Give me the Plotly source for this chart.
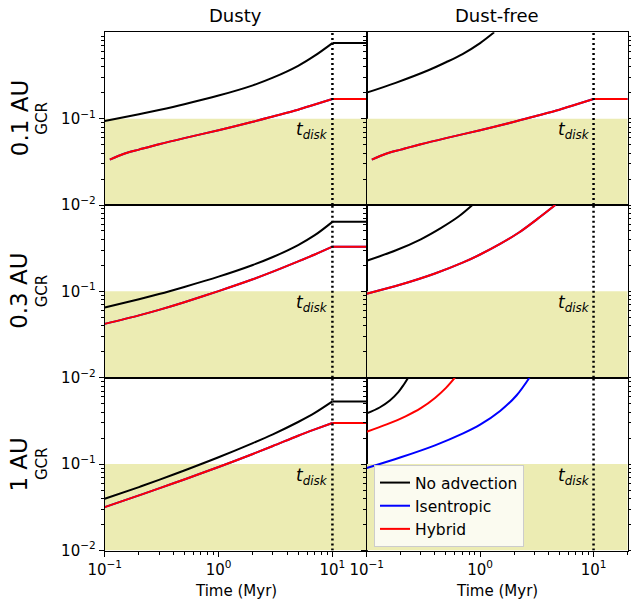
import math
import plotly.graph_objects as go

# ---------------- data ----------------
# Row 1: 0.1 AU
T_01_DUSTY = [0.1, 0.2, 0.3, 0.5, 1, 2, 3, 5, 7, 10, 20]
NOADV_01_DUSTY = [0.094, 0.1125, 0.126, 0.147, 0.185, 0.243, 0.298, 0.409, 0.536, 0.75, 0.75]
T_01_DUSTY_H = [0.111, 0.15, 0.2, 0.3, 0.5, 1, 2, 3, 5, 7, 10, 20]
HYB_01_DUSTY = [0.0336, 0.0395, 0.0438, 0.0505, 0.0595, 0.0735, 0.092, 0.106, 0.127, 0.146, 0.169, 0.169]
ISEN_01_DUSTY = [0.0336, 0.0395, 0.0438, 0.0505, 0.0595, 0.0735, 0.092, 0.106, 0.127, 0.146, 0.169, 0.169]

T_01_FREE_N = [0.1, 0.18, 0.354, 0.5, 0.7, 1.0, 1.33]
NOADV_01_FREE = [0.20, 0.26, 0.366, 0.45, 0.56, 0.75, 1.0]
T_01_FREE_H = [0.111, 0.15, 0.2, 0.3, 0.5, 1, 2, 3, 5, 7, 10, 20]
HYB_01_FREE = [0.0336, 0.0395, 0.0438, 0.0505, 0.0595, 0.0735, 0.092, 0.106, 0.127, 0.146, 0.169, 0.169]
ISEN_01_FREE = [0.0336, 0.0395, 0.0438, 0.0505, 0.0595, 0.0735, 0.092, 0.106, 0.127, 0.146, 0.169, 0.169]

# Row 2: 0.3 AU
T_03_DUSTY = [0.1, 0.2, 0.3, 0.5, 1, 2, 3, 5, 7, 10, 20]
NOADV_03_DUSTY = [0.065, 0.081, 0.093, 0.1125, 0.148, 0.202, 0.25, 0.344, 0.447, 0.638, 0.638]
HYB_03_DUSTY = [0.042, 0.0527, 0.061, 0.0748, 0.1007, 0.138, 0.169, 0.222, 0.267, 0.329, 0.329]
ISEN_03_DUSTY = [0.042, 0.0527, 0.061, 0.0748, 0.1007, 0.138, 0.169, 0.222, 0.267, 0.329, 0.329]

T_03_FREE_N = [0.1, 0.179, 0.3, 0.45, 0.65, 0.855]
NOADV_03_FREE = [0.226, 0.297, 0.401, 0.54, 0.74, 1.0]
T_03_FREE_H = [0.1, 0.2, 0.4, 0.7, 1.0, 1.5, 2.2, 3.2, 4.6]
HYB_03_FREE = [0.094, 0.12, 0.161, 0.215, 0.267, 0.354, 0.48, 0.69, 1.0]
ISEN_03_FREE = [0.094, 0.12, 0.161, 0.215, 0.267, 0.354, 0.48, 0.69, 1.0]

# Row 3: 1 AU
T_1_DUSTY = [0.1, 0.2, 0.3, 0.5, 1, 2, 3, 5, 7, 10, 20]
NOADV_1_DUSTY = [0.0397, 0.0542, 0.0656, 0.0843, 0.120, 0.175, 0.221, 0.307, 0.391, 0.531, 0.531]
HYB_1_DUSTY = [0.0318, 0.0434, 0.0523, 0.0664, 0.0925, 0.131, 0.162, 0.213, 0.252, 0.299, 0.299]
ISEN_1_DUSTY = [0.0318, 0.0434, 0.0523, 0.0664, 0.0925, 0.131, 0.162, 0.213, 0.252, 0.299, 0.299]

T_1_FREE_N = [0.1, 0.13, 0.16, 0.19, 0.212, 0.232]
NOADV_1_FREE = [0.386, 0.452, 0.545, 0.681, 0.83, 1.0]
T_1_FREE_H = [0.1, 0.15, 0.22, 0.3, 0.4, 0.5, 0.6]
HYB_1_FREE = [0.237, 0.288, 0.357, 0.444, 0.583, 0.762, 1.0]
T_1_FREE_I = [0.1, 0.2, 0.4, 0.7, 1.0, 1.5, 2.1, 2.72]
ISEN_1_FREE = [0.090, 0.120, 0.165, 0.225, 0.286, 0.412, 0.627, 1.0]

T_DISK = 10
GCR_SHADE = [0.01, 0.1]
X_LIMITS = [0.1, 20]
Y_LIMITS = [0.01, 1.0]

ROW_LABELS = ["0.1 AU", "0.3 AU", "1 AU"]
COL_TITLES = ["Dusty", "Dust-free"]
SERIES_NAMES = ["No advection", "Isentropic", "Hybrid"]
SERIES_COLORS = ["black", "blue", "red"]

X_TICKS = [0.1, 1, 10]
X_TICKTEXT = ["10<sup>\u22121</sup>", "10<sup>0</sup>", "10<sup>1</sup>"]
Y_TICKS = [0.01, 0.1]
Y_TICKTEXT = ["10<sup>\u22122</sup>", "10<sup>\u22121</sup>"]

panels = [
    (1, 1, [(T_01_DUSTY, NOADV_01_DUSTY), (T_01_DUSTY_H, ISEN_01_DUSTY), (T_01_DUSTY_H, HYB_01_DUSTY)]),
    (1, 2, [(T_01_FREE_N, NOADV_01_FREE), (T_01_FREE_H, ISEN_01_FREE), (T_01_FREE_H, HYB_01_FREE)]),
    (2, 1, [(T_03_DUSTY, NOADV_03_DUSTY), (T_03_DUSTY, ISEN_03_DUSTY), (T_03_DUSTY, HYB_03_DUSTY)]),
    (2, 2, [(T_03_FREE_N, NOADV_03_FREE), (T_03_FREE_H, ISEN_03_FREE), (T_03_FREE_H, HYB_03_FREE)]),
    (3, 1, [(T_1_DUSTY, NOADV_1_DUSTY), (T_1_DUSTY, ISEN_1_DUSTY), (T_1_DUSTY, HYB_1_DUSTY)]),
    (3, 2, [(T_1_FREE_N, NOADV_1_FREE), (T_1_FREE_I, ISEN_1_FREE), (T_1_FREE_H, HYB_1_FREE)]),
]

# ---------------- layout geometry ----------------
W, H = 631, 601
XPIX = {1: (104.7, 366.7), 2: (366.7, 627.7)}
YPIX = {1: (32.3, 205.0), 2: (205.0, 377.7), 3: (377.7, 550.5)}
FONT = "DejaVu Sans"
SHADE = "rgb(236,236,179)"

fig = go.Figure()
layout = dict(
    template="none",
    width=W, height=H, margin=dict(l=0, r=0, t=0, b=0, pad=0),
    paper_bgcolor="white", plot_bgcolor="white",
    font=dict(family=FONT, size=15, color="black"),
    showlegend=True,
)
annotations = []

minor_x = [m * 10 ** e for e in (-1, 0) for m in range(2, 10)] + [20]
minor_y = [m * 10 ** e for e in (-2, -1) for m in range(2, 10)]


def split_at_disk(tt, yy):
    """Split a series into its in-disk part and the flat post-disk part."""
    pre_t = [t for t in tt if t <= T_DISK]
    pre_y = yy[:len(pre_t)]
    post_t = [t for t in tt if t >= T_DISK]
    post_y = yy[len(tt) - len(post_t):]
    return (pre_t, pre_y), (post_t, post_y)


for k, (row, col, series) in enumerate(panels, start=1):
    xa = "x" if k == 1 else f"x{k}"
    ya = "y" if k == 1 else f"y{k}"
    xname = "xaxis" if k == 1 else f"xaxis{k}"
    yname = "yaxis" if k == 1 else f"yaxis{k}"

    fig.add_trace(go.Scatter(
        x=[X_LIMITS[0], X_LIMITS[1], X_LIMITS[1], X_LIMITS[0], X_LIMITS[0]],
        y=[GCR_SHADE[0], GCR_SHADE[0], GCR_SHADE[1], GCR_SHADE[1], GCR_SHADE[0]],
        fill="toself", fillcolor=SHADE, line=dict(width=0), mode="lines",
        hoverinfo="skip", showlegend=False, xaxis=xa, yaxis=ya))

    for (tt, yy), name, color in zip(series, SERIES_NAMES, SERIES_COLORS):
        (pt, py), (qt, qy) = split_at_disk(tt, yy)
        fig.add_trace(go.Scatter(
            x=pt, y=py, mode="lines", name=name,
            line=dict(color=color, width=2, shape="spline", smoothing=0.9),
            legendgroup=name, showlegend=(k == 1),
            xaxis=xa, yaxis=ya))
        if len(qt) > 1:
            fig.add_trace(go.Scatter(
                x=qt, y=qy, mode="lines", name=name,
                line=dict(color=color, width=2),
                legendgroup=name, showlegend=False,
                xaxis=xa, yaxis=ya))

    fig.add_trace(go.Scatter(
        x=[T_DISK, T_DISK], y=Y_LIMITS, mode="lines",
        line=dict(color="black", width=2.5, dash="2px,3px"),
        hoverinfo="skip", showlegend=False, xaxis=xa, yaxis=ya))

    x0, x1 = XPIX[col]
    y0, y1 = YPIX[row]
    bottom = row == 3
    layout[xname] = dict(
        type="log", range=[math.log10(X_LIMITS[0]), math.log10(X_LIMITS[1])],
        domain=[x0 / W, x1 / W], anchor=ya, automargin=False,
        showline=True, linecolor="black", linewidth=1, mirror=True,
        showgrid=False, zeroline=False,
        tickmode="array", tickvals=X_TICKS, ticktext=X_TICKTEXT,
        ticks="outside" if bottom else "", ticklen=5, tickwidth=1, tickcolor="black",
        showticklabels=bottom, tickfont=dict(size=15),
        minor=dict(tickvals=minor_x, ticks="outside" if bottom else "", ticklen=3,
                   tickwidth=0.8, tickcolor="black", showgrid=False),
    )
    layout[yname] = dict(
        type="log", range=[math.log10(Y_LIMITS[0]), math.log10(Y_LIMITS[1])],
        domain=[1 - y1 / H, 1 - y0 / H], anchor=xa, automargin=False,
        showline=True, linecolor="black", linewidth=1,
        mirror=True if col == 1 else "ticks",
        showgrid=False, zeroline=False,
        tickmode="array", tickvals=Y_TICKS, ticktext=Y_TICKTEXT,
        ticks="outside", ticklen=5, tickwidth=1, tickcolor="black",
        showticklabels=(col == 1), tickfont=dict(size=15),
        minor=dict(tickvals=minor_y, ticks="outside", ticklen=3,
                   tickwidth=0.8, tickcolor="black", showgrid=False),
    )

    annotations.append(dict(
        x=math.log10(T_DISK), y=-1.14, xref=xa, yref=ya,
        text="<i>t</i><sub><i>disk</i></sub>", showarrow=False,
        xanchor="right", yanchor="middle", xshift=-2,
        font=dict(size=17, family=FONT)))

for col, title in zip((1, 2), COL_TITLES):
    x0, x1 = XPIX[col]
    annotations.append(dict(
        x=(x0 + x1) / 2 / W, y=1 - 16 / H, xref="paper", yref="paper",
        text=title, showarrow=False, xanchor="center", yanchor="middle",
        font=dict(size=18, family=FONT)))
    annotations.append(dict(
        x=(x0 + x1) / 2 / W, y=1 - 591 / H, xref="paper", yref="paper",
        text="Time (Myr)", showarrow=False, xanchor="center", yanchor="middle",
        font=dict(size=15, family=FONT)))

for row, label in zip((1, 2, 3), ROW_LABELS):
    y0, y1 = YPIX[row]
    yc = 1 - (y0 + y1) / 2 / H
    annotations.append(dict(
        x=19.5 / W, y=yc, xref="paper", yref="paper", text=label,
        textangle=-90, showarrow=False, xanchor="center", yanchor="middle",
        font=dict(size=23, family=FONT)))
    annotations.append(dict(
        x=42 / W, y=yc, xref="paper", yref="paper", text="GCR",
        textangle=-90, showarrow=False, xanchor="center", yanchor="middle",
        font=dict(size=15, family=FONT)))

layout["annotations"] = annotations
layout["legend"] = dict(
    x=374 / W, y=1 - 465 / H, xanchor="left", yanchor="top",
    bgcolor="rgba(255,255,255,0.8)", bordercolor="#cccccc", borderwidth=1,
    font=dict(size=15.5, family=FONT), itemwidth=30,
    traceorder="grouped", tracegroupgap=0,
    entrywidth=160, entrywidthmode="pixels",
)
fig.update_layout(**layout)
fig.write_html("out.html")
